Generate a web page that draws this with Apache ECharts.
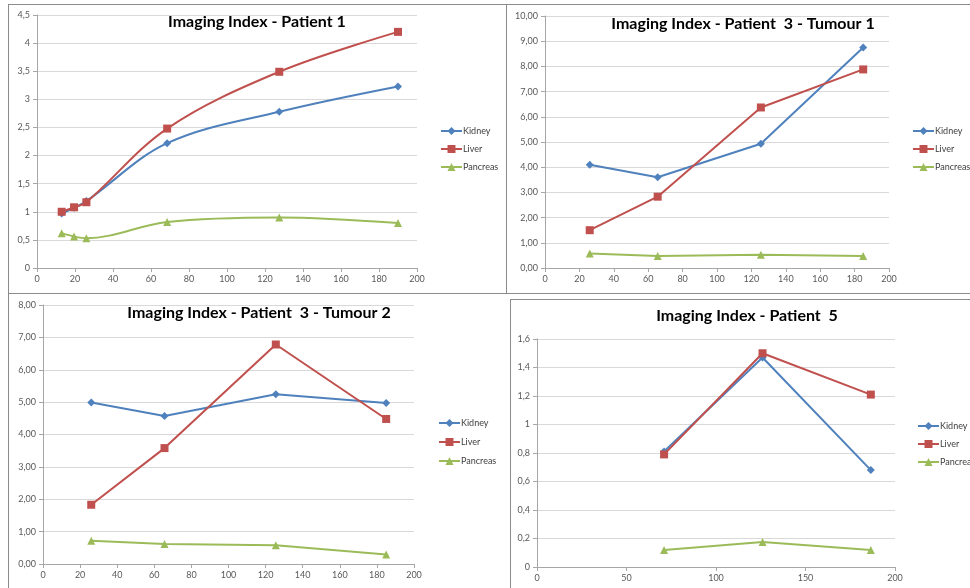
<!DOCTYPE html>
<html>
<head>
<meta charset="utf-8">
<script src="https://cdn.jsdelivr.net/npm/echarts@6/dist/echarts.min.js"></script>
<style>html,body{margin:0;padding:0;background:#fff}#c{width:970px;height:588px}</style>
</head>
<body>
<div id="c"></div>
<script>
// ---- Data ----
const seriesNames = ['Kidney', 'Liver', 'Pancreas'];
const titles = ['Imaging Index - Patient 1', 'Imaging Index - Patient  3 - Tumour 1', 'Imaging Index - Patient  3 - Tumour 2', 'Imaging Index - Patient  5'];

const p1X = [13, 19.5, 26, 68.5, 127.5, 190];
const p1Kidney = [0.97, 1.07, 1.19, 2.22, 2.78, 3.23];
const p1Liver = [1.0, 1.08, 1.17, 2.48, 3.49, 4.2];
const p1Pancreas = [0.62, 0.56, 0.53, 0.82, 0.9, 0.8];

const p2X = [26, 65.5, 125.5, 185];
const p2Kidney = [4.1, 3.6, 4.93, 8.75];
const p2Liver = [1.5, 2.83, 6.37, 7.88];
const p2Pancreas = [0.58, 0.48, 0.53, 0.48];

const p3X = [26, 65.5, 125.5, 185];
const p3Kidney = [4.99, 4.57, 5.24, 4.97];
const p3Liver = [1.83, 3.58, 6.78, 4.48];
const p3Pancreas = [0.72, 0.62, 0.58, 0.29];

const p4X = [71, 126, 186.5];
const p4Kidney = [0.81, 1.47, 0.68];
const p4Liver = [0.79, 1.5, 1.21];
const p4Pancreas = [0.12, 0.175, 0.12];

const yMax = [4.5, 10, 8, 1.6];
const yInterval = [0.5, 1, 1, 0.2];
const xInterval = [20, 20, 20, 50];
const yDecimals = [null, 2, 2, null];

// ---- Styling / layout ----
const FONT = 'Lato';
const colors = ['#4F81BD', '#C0504D', '#9BBB59'];
const symbols = ['diamond', 'rect', 'triangle'];
const symbolSizes = [8, 8, 8];
const grids = [
  {left: 37, top: 15, width: 380, height: 253},
  {left: 545, top: 16, width: 344, height: 252},
  {left: 43, top: 305, width: 371, height: 259},
  {left: 537, top: 339, width: 358, height: 228}
];
const titlePos = [[257, 14], [743, 16], [259, 305], [747, 308]];
const legendPos = [[440, 126], [912, 126], [438, 418], [917, 421]];
const legendGap = [8, 8, 9, 8];
const smoothFlags = [true, false, false, false];

const panels = [
  [p1X, [p1Kidney, p1Liver, p1Pancreas]],
  [p2X, [p2Kidney, p2Liver, p2Pancreas]],
  [p3X, [p3Kidney, p3Liver, p3Pancreas]],
  [p4X, [p4Kidney, p4Liver, p4Pancreas]]
];

function fmtY(dec) {
  return function (v) {
    const s = dec == null ? String(Math.round(v * 100) / 100) : v.toFixed(dec);
    return s.replace('.', ',');
  };
}

const option = {
  backgroundColor: '#fff',
  animation: false,
  title: titles.map((t, i) => ({
    text: t, left: titlePos[i][0], top: titlePos[i][1], textAlign: 'center', padding: 0,
    textStyle: {fontFamily: FONT, fontWeight: 'bold', fontSize: 16, color: '#000'}
  })),
  legend: panels.map((p, i) => ({
    data: seriesNames, orient: 'vertical', left: legendPos[i][0], top: legendPos[i][1],
    itemWidth: 21, itemHeight: 10, itemGap: legendGap[i], padding: 0, selectedMode: false,
    textStyle: {fontFamily: FONT, fontSize: 9, color: '#404040', lineHeight: 10, padding: [0, 0, 0, -4]}
  })),
  grid: grids.map(g => Object.assign({containLabel: false}, g)),
  xAxis: panels.map((p, i) => ({
    type: 'value', gridIndex: i, min: 0, max: 200, interval: xInterval[i],
    axisLine: {show: true, lineStyle: {color: '#a6a6a6'}},
    axisTick: {show: true, length: 4, lineStyle: {color: '#a6a6a6'}},
    axisLabel: {fontFamily: FONT, fontSize: 9, color: '#595959', margin: 7},
    splitLine: {show: false}
  })),
  yAxis: panels.map((p, i) => ({
    type: 'value', gridIndex: i, min: 0, max: yMax[i], interval: yInterval[i],
    axisLine: {show: true, lineStyle: {color: '#a6a6a6'}},
    axisTick: {show: true, length: 4, lineStyle: {color: '#a6a6a6'}},
    axisLabel: {fontFamily: FONT, fontSize: 9, color: '#595959', margin: 7, formatter: fmtY(yDecimals[i])},
    splitLine: {show: true, lineStyle: {color: '#d9d9d9', width: 1}}
  })),
  series: [],
  graphic: [
    {type: 'line', shape: {x1: 8, y1: 4.5, x2: 970, y2: 4.5}, style: {stroke: '#8c8c8c', lineWidth: 1}, silent: true},
    {type: 'line', shape: {x1: 8.5, y1: 4, x2: 8.5, y2: 588}, style: {stroke: '#8c8c8c', lineWidth: 1}, silent: true},
    {type: 'line', shape: {x1: 506.5, y1: 4, x2: 506.5, y2: 293}, style: {stroke: '#8c8c8c', lineWidth: 1}, silent: true},
    {type: 'line', shape: {x1: 8, y1: 293.5, x2: 970, y2: 293.5}, style: {stroke: '#8c8c8c', lineWidth: 1}, silent: true},
    {type: 'line', shape: {x1: 510.5, y1: 299, x2: 510.5, y2: 588}, style: {stroke: '#8c8c8c', lineWidth: 1}, silent: true},
    {type: 'line', shape: {x1: 510, y1: 299.5, x2: 970, y2: 299.5}, style: {stroke: '#8c8c8c', lineWidth: 1}, silent: true}
  ]
};

panels.forEach((p, i) => {
  const xs = p[0];
  p[1].forEach((vals, k) => {
    option.series.push({
      name: seriesNames[k], type: 'line', xAxisIndex: i, yAxisIndex: i,
      data: xs.map((x, j) => [x, vals[j]]),
      smooth: smoothFlags[i] ? 0.35 : false,
      symbol: symbols[k], symbolSize: symbolSizes[k], showSymbol: true,
      lineStyle: {color: colors[k], width: 2},
      itemStyle: {color: colors[k]},
      z: 2 + (k === 1 ? 1 : 0)
    });
  });
});

const chart = echarts.init(document.getElementById('c'), null, {renderer: 'canvas'});
chart.setOption(option);
</script>
</body>
</html>
